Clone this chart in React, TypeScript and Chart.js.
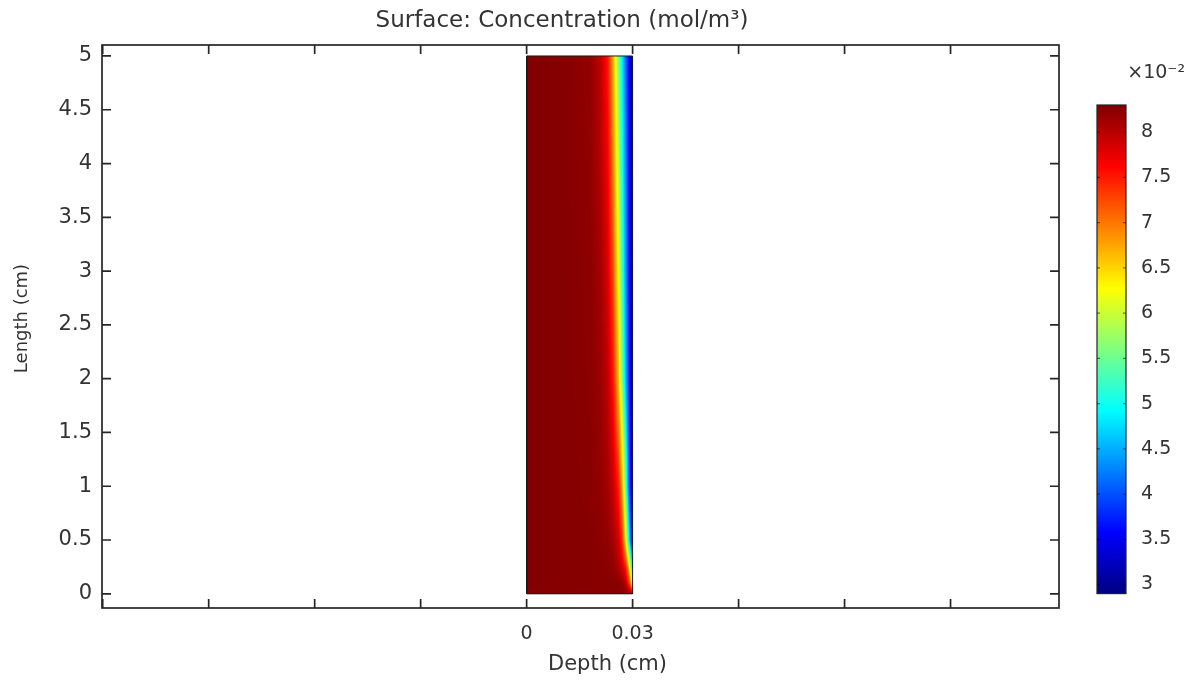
import React, { useEffect, useRef } from "react";
import { Chart, registerables } from "chart.js";

Chart.register(...registerables);

// ---------- text ----------
const TITLE = "Surface: Concentration (mol/m³)";
const X_TITLE = "Depth (cm)";
const Y_TITLE = "Length (cm)";
const COLORBAR_TITLE = "×10⁻²";

// ---------- axes ----------
const xRange = [-0.1202, 0.1507];
const yRange = [-0.132, 5.102];
const xTickValues = [-0.12, -0.09, -0.06, -0.03, 0, 0.03, 0.06, 0.09, 0.12];
const xTickLabels = ["", "", "", "", "0", "0.03", "", "", ""];
const yTickValues = [0, 0.5, 1, 1.5, 2, 2.5, 3, 3.5, 4, 4.5, 5];
const yTickLabels = ["0", "0.5", "1", "1.5", "2", "2.5", "3", "3.5", "4", "4.5", "5"];

// ---------- colour bar (×10^-2 mol/m^3) ----------
const colorRange = [2.9, 8.3];
const colorbarTicks = [3, 3.5, 4, 4.5, 5, 5.5, 6, 6.5, 7, 7.5, 8];
const colorbarLabels = ["3", "3.5", "4", "4.5", "5", "5.5", "6", "6.5", "7", "7.5", "8"];

// ---------- domain ----------
const domainDepth = [0, 0.03, 0.03, 0, 0];
const domainLength = [0, 0, 5, 5, 0];

// ---------- concentration field (×10^-2 mol/m^3) ----------
const depthSamples = [0, 0.01, 0.018, 0.021, 0.023, 0.0245, 0.026, 0.027, 0.028, 0.029, 0.0295, 0.03];
const lengthLevels = [0, 0.1, 0.25, 0.5, 1, 2, 3, 4, 5];
const concL0 = [8.27, 8.26, 8.25, 8.25, 8.25, 8.25, 8.25, 8.25, 8.24, 8.22, 8.15, 8.0];
const concL01 = [8.28, 8.27, 8.26, 8.25, 8.25, 8.25, 8.24, 8.2, 8.0, 7.4, 6.8, 6.0];
const concL025 = [8.28, 8.27, 8.26, 8.25, 8.24, 8.2, 8.05, 7.85, 7.5, 6.5, 5.6, 4.6];
const concL05 = [8.28, 8.27, 8.26, 8.24, 8.2, 8.1, 7.85, 7.4, 6.4, 4.8, 4.0, 3.3];
const concL1 = [8.28, 8.27, 8.25, 8.2, 8.1, 7.9, 7.45, 6.8, 5.5, 4.0, 3.5, 3.05];
const concL2 = [8.28, 8.27, 8.24, 8.15, 7.95, 7.5, 6.6, 5.6, 4.6, 3.7, 3.35, 3.0];
const concL3 = [8.28, 8.27, 8.23, 8.1, 7.8, 7.2, 6.2, 5.3, 4.4, 3.65, 3.3, 3.0];
const concL4 = [8.28, 8.27, 8.22, 8.0, 7.65, 6.95, 5.9, 5.1, 4.3, 3.6, 3.3, 3.0];
const concL5 = [8.28, 8.27, 8.2, 7.95, 7.5, 6.7, 5.6, 4.85, 4.15, 3.55, 3.25, 3.0];
const concentrationTable = [concL0, concL01, concL025, concL05, concL1, concL2, concL3, concL4, concL5];

// ---------- helpers ----------
const FONT = "'DejaVu Sans', sans-serif";
const TEXT = "#333333";

function clamp(v: number, a: number, b: number) {
  return Math.max(a, Math.min(b, v));
}

function jet(value: number): [number, number, number] {
  const t = clamp((value - colorRange[0]) / (colorRange[1] - colorRange[0]), 0, 1);
  const r = clamp(Math.min(4 * t - 1.5, -4 * t + 4.5), 0, 1);
  const g = clamp(Math.min(4 * t - 0.5, -4 * t + 3.5), 0, 1);
  const b = clamp(Math.min(4 * t + 0.5, -4 * t + 2.5), 0, 1);
  return [Math.round(r * 255), Math.round(g * 255), Math.round(b * 255)];
}

function interpRow(row: number[], d: number) {
  if (d <= depthSamples[0]) return row[0];
  for (let i = 0; i < depthSamples.length - 1; i++) {
    const a = depthSamples[i];
    const b = depthSamples[i + 1];
    if (d <= b) {
      const f = (d - a) / (b - a);
      return row[i] + (row[i + 1] - row[i]) * f;
    }
  }
  return row[row.length - 1];
}

function sampleField(d: number, L: number) {
  if (L <= lengthLevels[0]) return interpRow(concentrationTable[0], d);
  for (let i = 0; i < lengthLevels.length - 1; i++) {
    const a = lengthLevels[i];
    const b = lengthLevels[i + 1];
    if (L <= b) {
      const f = (L - a) / (b - a);
      const c0 = interpRow(concentrationTable[i], d);
      const c1 = interpRow(concentrationTable[i + 1], d);
      return c0 + (c1 - c0) * f;
    }
  }
  return interpRow(concentrationTable[concentrationTable.length - 1], d);
}

const heatmapPlugin = {
  id: "heatmap",
  beforeDatasetsDraw(chart: any) {
    const xs = chart.scales.x;
    const ys = chart.scales.y;
    const x0 = Math.round(xs.getPixelForValue(domainDepth[0]));
    const x1 = Math.round(xs.getPixelForValue(domainDepth[1]));
    const y0 = Math.round(ys.getPixelForValue(domainLength[2]));
    const y1 = Math.round(ys.getPixelForValue(domainLength[0]));
    const w = x1 - x0;
    const h = y1 - y0;
    if (w <= 0 || h <= 0) return;
    const off = document.createElement("canvas");
    off.width = w;
    off.height = h;
    const octx = off.getContext("2d")!;
    const img = octx.createImageData(w, h);
    for (let py = 0; py < h; py++) {
      const L = ys.getValueForPixel(y0 + py + 0.5);
      for (let px = 0; px < w; px++) {
        const d = xs.getValueForPixel(x0 + px + 0.5);
        const [r, g, b] = jet(sampleField(d, L));
        const k = (py * w + px) * 4;
        img.data[k] = r;
        img.data[k + 1] = g;
        img.data[k + 2] = b;
        img.data[k + 3] = 255;
      }
    }
    octx.putImageData(img, 0, 0);
    chart.ctx.drawImage(off, x0, y0);
  },
};

const framePlugin = {
  id: "frame",
  afterDraw(chart: any) {
    const { ctx, chartArea } = chart;
    const xs = chart.scales.x;
    const ys = chart.scales.y;
    const tick = 9;
    ctx.save();
    ctx.strokeStyle = "#262626";
    ctx.lineWidth = 1.7;
    ctx.strokeRect(chartArea.left, chartArea.top, chartArea.right - chartArea.left, chartArea.bottom - chartArea.top);
    ctx.beginPath();
    xTickValues.forEach((v) => {
      const px = xs.getPixelForValue(v);
      ctx.moveTo(px, chartArea.bottom);
      ctx.lineTo(px, chartArea.bottom - tick);
      ctx.moveTo(px, chartArea.top);
      ctx.lineTo(px, chartArea.top + tick);
    });
    yTickValues.forEach((v) => {
      const py = ys.getPixelForValue(v);
      ctx.moveTo(chartArea.left, py);
      ctx.lineTo(chartArea.left + tick, py);
      ctx.moveTo(chartArea.right, py);
      ctx.lineTo(chartArea.right - tick, py);
    });
    ctx.stroke();

    // axis titles
    ctx.fillStyle = TEXT;
    ctx.font = `21px ${FONT}`;
    ctx.textAlign = "center";
    ctx.textBaseline = "alphabetic";
    ctx.fillText(X_TITLE, (chartArea.left + chartArea.right) / 2 + 27, chartArea.bottom + 62);

    ctx.font = `18px ${FONT}`;
    ctx.textBaseline = "middle";
    ctx.translate(chartArea.left - 80, (chartArea.top + chartArea.bottom) / 2 - 8);
    ctx.rotate(-Math.PI / 2);
    ctx.fillText(Y_TITLE, 0, 0);
    ctx.restore();
  },
};

const colorbarPlugin = {
  id: "colorbar",
  beforeDraw(chart: any) {
    const { ctx, chartArea } = chart;
    const ys = chart.scales.y;
    ctx.save();
    for (let py = Math.floor(chartArea.top); py < Math.ceil(chartArea.bottom); py++) {
      const v = ys.getValueForPixel(py + 0.5);
      const [r, g, b] = jet(v);
      ctx.fillStyle = `rgb(${r},${g},${b})`;
      ctx.fillRect(chartArea.left, py, chartArea.right - chartArea.left, 1);
    }
    ctx.restore();
  },
  afterDraw(chart: any) {
    const { ctx, chartArea } = chart;
    const ys = chart.scales.y;
    ctx.save();
    ctx.strokeStyle = "#222";
    ctx.lineWidth = 1.2;
    ctx.strokeRect(chartArea.left, chartArea.top, chartArea.right - chartArea.left, chartArea.bottom - chartArea.top);
    ctx.beginPath();
    colorbarTicks.forEach((v) => {
      const py = ys.getPixelForValue(v);
      ctx.moveTo(chartArea.left, py);
      ctx.lineTo(chartArea.left + 3, py);
      ctx.moveTo(chartArea.right, py);
      ctx.lineTo(chartArea.right - 3, py);
    });
    ctx.strokeStyle = "rgba(0,0,0,0.5)";
    ctx.stroke();
    ctx.restore();
  },
};

export default function App() {
  const mainRef = useRef<HTMLCanvasElement>(null);
  const cbRef = useRef<HTMLCanvasElement>(null);

  useEffect(() => {
    document.body.style.margin = "0";
    const main = new Chart(mainRef.current!, {
      type: "scatter",
      data: {
        datasets: [
          {
            label: "domain",
            data: domainDepth.map((d, i) => ({ x: d, y: domainLength[i] })),
            showLine: true,
            borderColor: "#1a1a1a",
            borderWidth: 1,
            pointRadius: 0,
            fill: false,
          },
        ],
      },
      options: {
        responsive: false,
        animation: false,
        layout: { padding: { left: 8, right: 81, top: 0, bottom: 0 } },
        plugins: {
          legend: { display: false },
          tooltip: { enabled: false },
          title: {
            display: true,
            text: TITLE,
            color: TEXT,
            font: { family: FONT, size: 23, weight: "normal" },
            padding: { top: 7.2, bottom: 10.2 },
          },
        },
        scales: {
          x: {
            type: "linear",
            min: xRange[0],
            max: xRange[1],
            afterBuildTicks: (s: any) => {
              s.ticks = xTickValues.map((v) => ({ value: v }));
            },
            afterFit: (s: any) => {
              s.height = 75;
            },
            grid: { display: false, drawTicks: false },
            border: { display: false },
            ticks: {
              autoSkip: false,
              maxRotation: 0,
              padding: 15,
              color: TEXT,
              font: { family: FONT, size: 19 },
              callback: (_v: any, i: number) => xTickLabels[i],
            },
          },
          y: {
            type: "linear",
            min: yRange[0],
            max: yRange[1],
            afterBuildTicks: (s: any) => {
              s.ticks = yTickValues.map((v) => ({ value: v }));
            },
            afterFit: (s: any) => {
              s.width = 94;
            },
            grid: { display: false, drawTicks: false },
            border: { display: false },
            ticks: {
              autoSkip: false,
              padding: 10,
              color: TEXT,
              font: { family: FONT, size: 21 },
              callback: (_v: any, i: number) => yTickLabels[i],
            },
          },
          y2: {
            type: "linear",
            position: "right",
            min: yRange[0],
            max: yRange[1],
            grid: { display: false, drawTicks: false },
            border: { display: false },
            ticks: { display: false },
            afterFit: (s: any) => {
              s.width = 57;
            },
          },
        },
      },
      plugins: [heatmapPlugin, framePlugin],
    } as any);

    const cb = new Chart(cbRef.current!, {
      type: "scatter",
      data: { datasets: [] },
      options: {
        responsive: false,
        animation: false,
        layout: { padding: { left: 37, right: 12, top: 0, bottom: 23 } },
        plugins: {
          legend: { display: false },
          tooltip: { enabled: false },
          title: {
            display: true,
            text: COLORBAR_TITLE,
            align: "end",
            color: TEXT,
            font: { family: FONT, size: 19, weight: "normal" },
            padding: { top: 21.6, bottom: 20.6 },
          },
        },
        scales: {
          x: { display: false, min: 0, max: 1 },
          y: {
            type: "linear",
            position: "right",
            min: colorRange[0],
            max: colorRange[1],
            afterBuildTicks: (s: any) => {
              s.ticks = colorbarTicks.map((v) => ({ value: v }));
            },
            afterFit: (s: any) => {
              s.width = 59;
            },
            grid: { display: false, drawTicks: false },
            border: { display: false },
            ticks: {
              autoSkip: false,
              padding: 15,
              color: TEXT,
              font: { family: FONT, size: 19 },
              callback: (_v: any, i: number) => colorbarLabels[i],
            },
          },
        },
      },
      plugins: [colorbarPlugin],
    } as any);

    return () => {
      main.destroy();
      cb.destroy();
    };
  }, []);

  return (
    <div style={{ position: "relative", width: 1197, height: 683, background: "#ffffff" }}>
      <canvas ref={mainRef} width={1197} height={683} style={{ position: "absolute", left: 0, top: 0 }} />
      <canvas ref={cbRef} width={137} height={580} style={{ position: "absolute", left: 1060, top: 40 }} />
    </div>
  );
}
